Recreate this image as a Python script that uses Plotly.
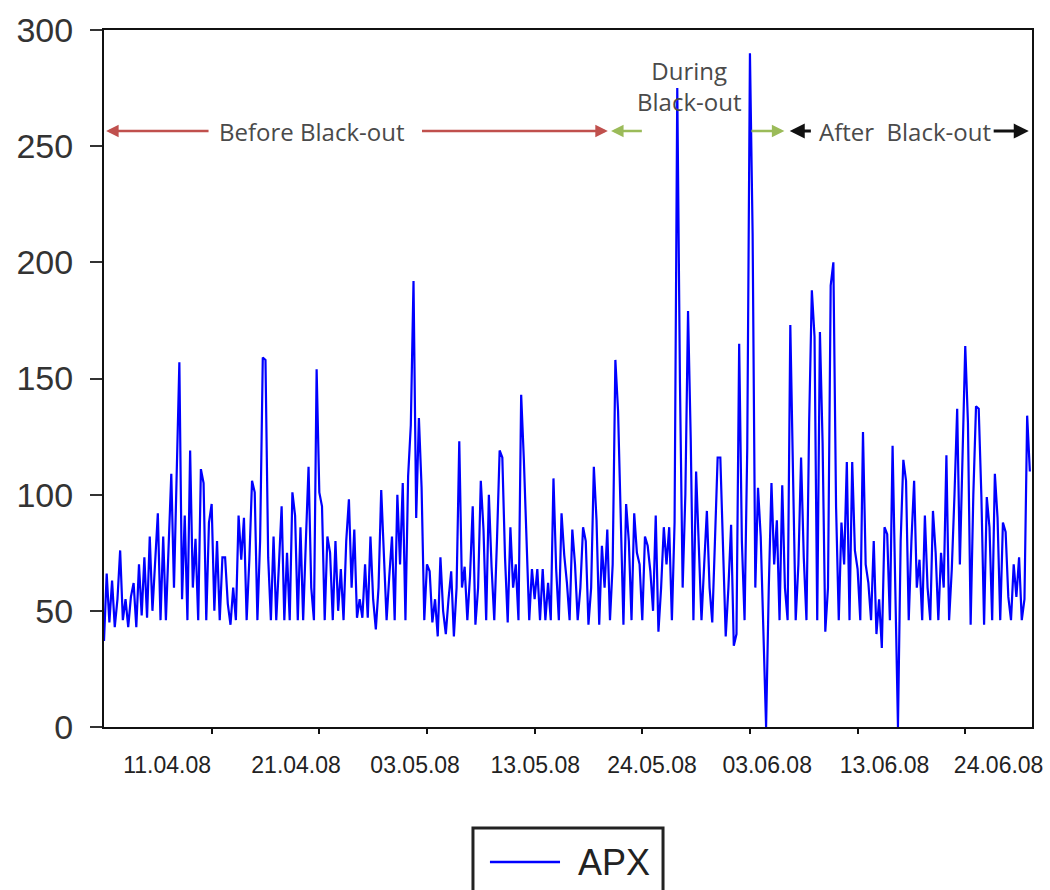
import numpy as np
import plotly.graph_objects as go

# APX hourly price at ~4 samples per day (day-index units)
apx_price = [
    37, 66, 45, 63, 43, 55, 76, 46, 55, 43, 56, 62, 43, 70, 48, 73, 47, 82, 50, 72,
    92, 46, 82, 46, 80, 109, 60, 106, 157, 55, 91, 46, 119, 60, 81, 46, 111, 105, 46, 88,
    96, 50, 80, 46, 73, 73, 53, 44, 60, 46, 91, 72, 90, 46, 72, 106, 101, 46, 80, 159,
    158, 73, 46, 82, 46, 70, 95, 46, 75, 46, 101, 91, 46, 86, 46, 80, 112, 60, 46, 154,
    101, 95, 46, 82, 75, 46, 80, 50, 68, 46, 80, 98, 60, 85, 47, 55, 47, 70, 47, 82,
    55, 42, 60, 102, 75, 46, 65, 82, 46, 100, 70, 105, 46, 108, 130, 192, 90, 133, 103, 46,
    70, 67, 45, 55, 39, 73, 50, 40, 55, 67, 39, 60, 123, 60, 69, 46, 65, 95, 44, 60,
    106, 85, 46, 100, 69, 46, 80, 119, 116, 73, 45, 86, 60, 70, 46, 143, 115, 78, 46, 68,
    55, 68, 46, 68, 46, 62, 46, 107, 68, 46, 92, 74, 62, 46, 85, 70, 46, 60, 86, 80,
    44, 60, 112, 89, 44, 78, 60, 85, 46, 70, 158, 136, 84, 44, 96, 80, 46, 92, 75, 70,
    46, 82, 78, 67, 50, 91, 41, 60, 86, 70, 86, 46, 88, 275, 148, 60, 100, 179, 124, 46,
    110, 80, 46, 70, 93, 60, 45, 80, 116, 116, 75, 39, 60, 87, 35, 40, 165, 80, 46, 120,
    290, 212, 60, 103, 82, 46, 0, 60, 105, 70, 89, 46, 104, 60, 46, 173, 116, 46, 70, 116,
    73, 46, 131, 188, 168, 46, 170, 122, 41, 60, 190, 200, 95, 46, 88, 70, 114, 46, 114, 76,
    68, 46, 127, 70, 62, 46, 80, 40, 55, 34, 86, 83, 46, 121, 60, 0, 80, 115, 106, 46,
    80, 106, 60, 72, 46, 91, 60, 46, 93, 75, 46, 75, 60, 117, 46, 68, 100, 137, 70, 120,
    164, 131, 44, 100, 138, 137, 99, 44, 99, 86, 46, 109, 90, 46, 88, 84, 56, 46, 70, 56,
    73, 46, 55, 134, 110,
]
samples_per_day = 4

tick_days = [10, 20, 30, 40, 50, 60, 70, 80]
date_labels = ["11.04.08", "21.04.08", "03.05.08", "13.05.08",
               "24.05.08", "03.06.08", "13.06.08", "24.06.08"]
label_days = [5.86, 17.84, 28.9, 40.06, 50.9, 61.6, 72.5, 83.1]
y_ticks = [0, 50, 100, 150, 200, 250, 300]
series_name = "APX"
line_color = "#0000FF"

x_vals = np.arange(len(apx_price)) / samples_per_day

fig = go.Figure()
fig.add_trace(go.Scatter(
    x=x_vals, y=apx_price, mode="lines", name=series_name,
    line=dict(color=line_color, width=2.2), showlegend=False,
))
# carrier trace for the label axis
fig.add_trace(go.Scatter(x=[], y=[], xaxis="x2", showlegend=False, hoverinfo="skip"))

x_range = [0, 86.2]

fig.update_layout(
    width=1050, height=890,
    margin=dict(l=104, r=18, t=30, b=163, autoexpand=False),
    paper_bgcolor="white", plot_bgcolor="white",
    font=dict(family="Liberation Sans, Arial", color="#333333"),
    xaxis=dict(
        range=x_range, tickvals=tick_days, showticklabels=False,
        ticks="outside", ticklen=5, tickwidth=2, tickcolor="#111111",
        showline=True, linecolor="#111111", linewidth=2, mirror=True,
        showgrid=False, zeroline=False,
    ),
    xaxis2=dict(
        overlaying="x", matches="x", anchor="y", side="bottom",
        tickvals=label_days, ticktext=date_labels, ticks="",
        tickfont=dict(size=23, color="#222222", family="Liberation Sans, Arial"),
        ticklabelstandoff=22,
        showline=False, showgrid=False, zeroline=False,
    ),
    yaxis=dict(
        range=[0, 300], tickvals=y_ticks,
        ticks="outside", ticklen=12, tickwidth=2, tickcolor="#333333",
        tickfont=dict(size=34, color="#333333", family="Liberation Sans, Arial"),
        ticklabelstandoff=10,
        showline=True, linecolor="#111111", linewidth=2, mirror=True,
        showgrid=False, zeroline=False,
    ),
)

# legend box (drawn below the plot, like the original)
fig.add_shape(type="rect", xref="paper", yref="paper",
              x0=0.3976, x1=0.6024, y0=-0.245, y1=-0.1449,
              line=dict(color="#222222", width=3), fillcolor="white")
fig.add_shape(type="line", xref="paper", yref="paper",
              x0=0.4159, x1=0.4914, y0=-0.1937, y1=-0.1937,
              line=dict(color=line_color, width=2.5))
fig.add_annotation(x=0.5091, y=-0.1937, xref="paper", yref="paper",
                   text=series_name, showarrow=False, xanchor="left", yanchor="middle",
                   font=dict(size=36, color="#222222", family="Liberation Sans, Arial"))

arrow_y = 256.5
arrows = [
    # (tail_x, head_x, color, width)
    (9.85, 0.2, "#C0504D", 2.5),
    (29.4, 46.8, "#C0504D", 2.5),
    (50.1, 47.1, "#9BBB59", 2.5),
    (60.0, 63.2, "#9BBB59", 2.5),
    (65.8, 63.7, "#111111", 3),
    (82.5, 85.9, "#111111", 3),
]
for tail, head, col, w in arrows:
    fig.add_annotation(
        x=head, y=arrow_y, ax=tail, ay=arrow_y, xref="x", yref="y",
        axref="x", ayref="y", text="", showarrow=True,
        arrowhead=2, arrowsize=1, arrowwidth=w, arrowcolor=col,
    )

text_font = dict(size=24, color="#4a4a4a", family="Open Sans, DejaVu Sans")
fig.add_annotation(x=19.3, y=arrow_y, xref="x", yref="y", text="Before Black-out",
                   showarrow=False, font=text_font)
fig.add_annotation(x=54.3, y=276, xref="x", yref="y", text="During<br>Black-out",
                   showarrow=False, font=text_font)
fig.add_annotation(x=74.4, y=arrow_y, xref="x", yref="y", text="After  Black-out",
                   showarrow=False, font=text_font)

fig.write_html("out.html")
